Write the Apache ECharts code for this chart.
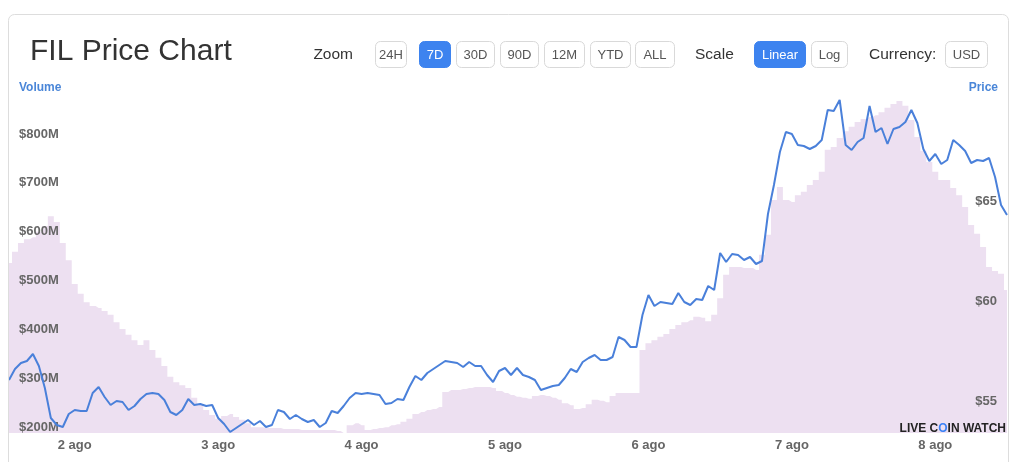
<!DOCTYPE html>
<html><head><meta charset="utf-8">
<script src="https://cdn.jsdelivr.net/npm/echarts@6/dist/echarts.min.js"></script>
<style>html,body{margin:0;padding:0;background:#fff}#c{width:1024px;height:462px}</style>
</head><body><div id="c"></div>
<script>
// ---- data (hourly, 7 days) ----
const dayLabels = ['2 ago','3 ago','4 ago','5 ago','6 ago','7 ago','8 ago'];
const firstMidnight = 11; // hour index of "2 ago" 00:00
const price = [
56.35,56.90,57.20,57.30,57.65,57.05,55.95,54.45,54.10,54.00,
54.65,54.85,54.80,54.80,55.70,56.00,55.50,55.10,55.30,55.25,
54.85,55.05,55.40,55.65,55.70,55.65,55.35,54.75,54.60,54.85,
55.40,55.10,55.15,55.05,55.10,54.45,54.15,53.75,53.95,54.15,
54.35,54.10,54.30,54.00,54.10,54.85,54.75,54.40,54.60,54.40,
54.25,54.35,54.00,54.20,54.80,54.70,55.05,55.45,55.70,55.65,
55.70,55.65,55.60,55.15,55.20,55.40,55.35,56.00,56.55,56.35,
56.70,56.90,57.10,57.30,57.25,57.20,57.00,57.25,57.05,57.05,
56.60,56.25,56.80,56.95,56.60,56.95,56.60,56.50,56.35,55.85,
55.95,56.05,56.10,56.45,56.90,56.75,57.25,57.45,57.60,57.35,
57.35,57.50,58.50,58.35,58.00,58.00,59.60,60.60,60.05,60.25,
60.20,60.15,60.70,60.25,60.10,60.40,60.35,61.05,60.85,62.70,
62.25,62.65,62.60,62.35,62.50,62.15,62.30,64.65,66.10,67.75,
68.75,68.65,68.10,68.05,67.90,68.05,68.35,69.85,69.80,70.35,
68.10,67.85,68.25,68.45,70.05,68.75,68.95,68.15,68.90,69.00,
69.25,69.85,69.20,67.90,67.30,67.65,67.15,67.35,68.35,68.10,
67.80,67.20,67.35,67.30,67.45,66.50,65.10,64.60];
const volume = [ // $M
548,571,589,597,601,612,624,644,632,589,
554,505,485,468,460,456,450,442,427,413,
401,390,380,390,370,354,337,315,304,298,
292,272,259,247,237,229,235,239,233,227,
220,212,212,210,210,210,208,208,208,206,
206,206,206,206,206,204,200,216,220,216,
206,208,210,212,216,218,223,229,239,243,
247,249,253,284,288,288,290,292,294,294,
294,292,286,282,278,274,272,270,276,278,
276,272,268,261,257,249,251,259,268,266,
263,276,282,282,282,282,370,384,390,397,
403,413,421,427,431,438,436,429,442,476,
524,540,540,538,538,534,565,606,677,704,
677,673,687,694,708,718,735,780,786,804,
818,827,837,843,847,851,857,866,874,880,
870,841,806,778,755,735,718,718,702,687,
663,626,608,581,540,532,526,493];
const volumeTicks = [200,300,400,500,600,700,800];
const priceTicks = [55,60,65];
const zoomButtons = ['24H','7D','30D','90D','12M','YTD','ALL'];
const scaleButtons = ['Linear','Log'];
const currencyButtons = ['USD'];
const activeButtons = ['7D','Linear'];

// ---- layout ----
const FONT = '"Liberation Sans", Arial, Helvetica, sans-serif';
const btnLayout = {'24H':[375,31],'7D':[419,31],'30D':[456,38],'90D':[500,38],'12M':[544,40],'YTD':[590,40],'ALL':[635,39],'Linear':[754,51],'Log':[811,36],'USD':[945,42]};
const graphics = [];
graphics.push({type:'rect',shape:{x:8.5,y:14.5,width:1000,height:480,r:6},style:{fill:'none',stroke:'#dddddd',lineWidth:1},z:100,silent:true});
graphics.push({type:'text',left:30,top:37,style:{text:'FIL Price Chart',font:'30px '+FONT,fill:'#333'}});
graphics.push({type:'text',x:353,y:55,style:{text:'Zoom',font:'15.5px '+FONT,fill:'#333',align:'right',verticalAlign:'middle'}});
graphics.push({type:'text',x:695,y:55,style:{text:'Scale',font:'15.5px '+FONT,fill:'#333',verticalAlign:'middle'}});
graphics.push({type:'text',x:869,y:55,style:{text:'Currency:',font:'15.5px '+FONT,fill:'#333',verticalAlign:'middle'}});
[...zoomButtons,...scaleButtons,...currencyButtons].forEach(b=>{
  const [bx,bw]=btnLayout[b]; const act=activeButtons.includes(b);
  graphics.push({type:'rect',shape:{x:bx+0.5,y:41.5,width:bw,height:26,r:5},style:{fill:act?'#3d83ef':'#fff',stroke:act?'#3d83ef':'#d9d9d9',lineWidth:1}});
  graphics.push({type:'text',x:bx+bw/2+0.5,y:55,style:{text:b,font:'13px '+FONT,fill:act?'#fff':'#555',align:'center',verticalAlign:'middle'}});
});
graphics.push({type:'text',x:19,y:88,style:{text:'Volume',font:'bold 12px '+FONT,fill:'#4a86d8',verticalAlign:'middle'}});
graphics.push({type:'text',x:998,y:88,style:{text:'Price',font:'bold 12px '+FONT,fill:'#4a86d8',align:'right',verticalAlign:'middle'}});
graphics.push({type:'text',x:1006,y:429,z:50,style:{text:'{a|LIVE C}{o|O}{a|IN WATCH}',align:'right',verticalAlign:'middle',
  rich:{a:{font:'bold 12px '+FONT,fill:'#222'},o:{font:'bold 12px '+FONT,fill:'#3b82f6'}}}});

const axisLabelBase = {color:'#666',fontWeight:'bold',fontSize:13,fontFamily:FONT};
const chart = echarts.init(document.getElementById('c'));
chart.setOption({
  animation:false,
  backgroundColor:'#fff',
  grid:{left:9,right:17,top:90,bottom:29},
  xAxis:{type:'value',min:0,max:price.length-1,
    axisLine:{show:false},axisTick:{show:false},splitLine:{show:false},
    axisLabel:Object.assign({},axisLabelBase,{margin:6,
      customValues:dayLabels.map((_,k)=>firstMidnight+24*k),
      formatter:v=>dayLabels[Math.round((v-firstMidnight)/24)]})},
  yAxis:[
    {type:'value',position:'left',min:200,max:902.5,z:3,
     axisLine:{show:false},axisTick:{show:false},splitLine:{show:false},
     axisLabel:Object.assign({},axisLabelBase,{inside:true,margin:10,verticalAlign:'bottom',lineHeight:12,
       customValues:volumeTicks,formatter:v=>'$'+v+'M'})},
    {type:'value',position:'right',min:53.7,max:70.85,z:3,
     axisLine:{show:false},axisTick:{show:false},splitLine:{show:false},
     axisLabel:Object.assign({},axisLabelBase,{inside:true,margin:10,verticalAlign:'bottom',lineHeight:12,
       customValues:priceTicks,formatter:v=>'$'+v})}
  ],
  series:[
    {type:'line',name:'Volume',yAxisIndex:0,step:'middle',showSymbol:false,z:1,
     data:volume.map((v,i)=>[i,v]),lineStyle:{width:0,opacity:0},
     areaStyle:{color:'#ede0f1',opacity:1}},
    {type:'line',name:'Price',yAxisIndex:1,showSymbol:false,z:5,
     data:price.map((v,i)=>[i,v]),lineStyle:{width:2,color:'#4a80da'},itemStyle:{color:'#4a80da'}}
  ],
  graphic:graphics
});
</script></body></html>
